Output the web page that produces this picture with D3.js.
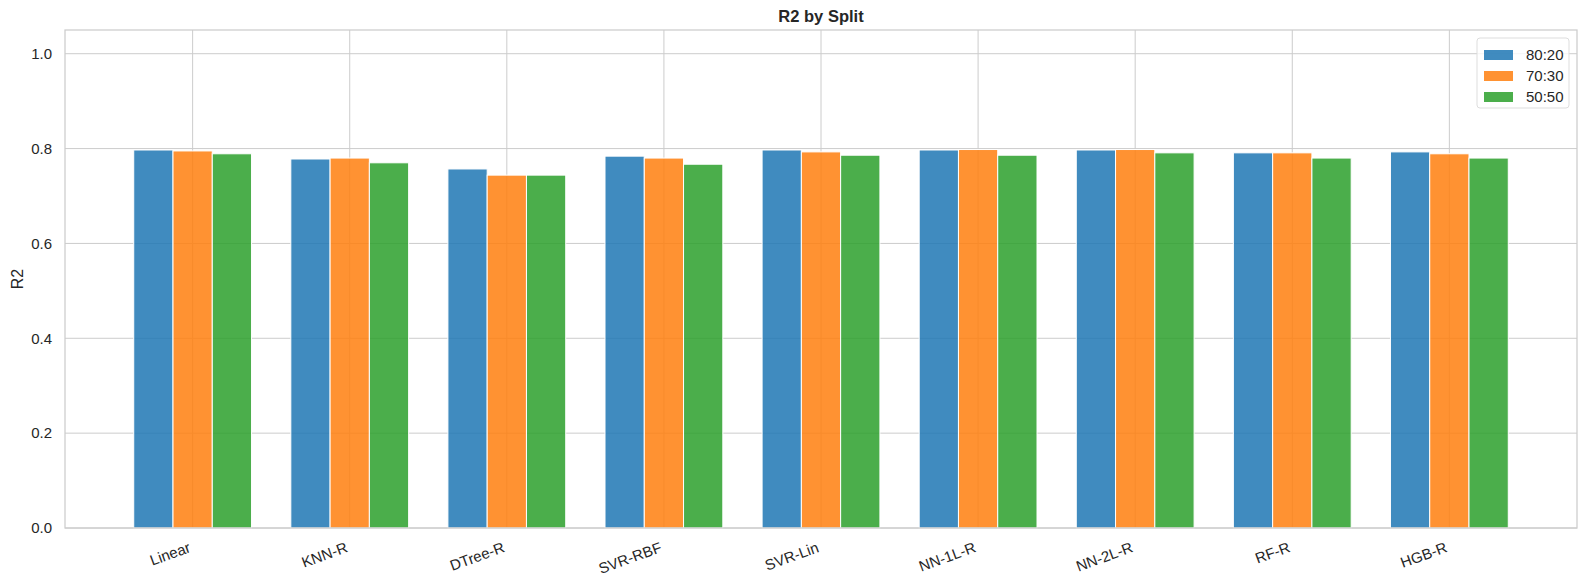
<!DOCTYPE html>
<html lang="en">
<head>
    <meta charset="UTF-8">
    <title>R2 by Split</title>
    <script src="https://d3js.org/d3.v7.min.js"></script>
    <style>
        body { margin: 0; background: #fff; }
        text { font-family: Arial, "Liberation Sans", sans-serif; fill: #262626; }
    </style>
</head>
<body>
    <div id="chart"></div>

    <script>
        // data
        const models = ['Linear', 'KNN-R', 'DTree-R', 'SVR-RBF', 'SVR-Lin', 'NN-1L-R', 'NN-2L-R', 'RF-R', 'HGB-R'];
        const splits = ['80:20', '70:30', '50:50'];
        const r2_8020 = [0.797, 0.778, 0.757, 0.784, 0.797, 0.797, 0.797, 0.791, 0.793];
        const r2_7030 = [0.795, 0.780, 0.744, 0.780, 0.793, 0.798, 0.798, 0.791, 0.789];
        const r2_5050 = [0.789, 0.770, 0.744, 0.767, 0.786, 0.786, 0.791, 0.780, 0.780];
        const yTicks = [0.0, 0.2, 0.4, 0.6, 0.8, 1.0];

        const series = [r2_8020, r2_7030, r2_5050];
        const colors = ['#1f77b4', '#ff7f0e', '#2ca02c'];

        const W = 1587, H = 587;
        const margin = {top: 30, right: 10, bottom: 59, left: 65};
        const width = W - margin.left - margin.right,
            height = H - margin.top - margin.bottom;

        const svg = d3.select('#chart')
            .append('svg')
                .attr('width', W)
                .attr('height', H);
        const g = svg.append('g')
            .attr('transform', `translate(${margin.left}, ${margin.top})`);

        // matplotlib style: bars at i-0.25, i, i+0.25 with width 0.25 + 5% margins
        const barW = 0.25;
        const lo = -0.375, hi = models.length - 1 + 0.375;
        const pad = (hi - lo) * 0.05;
        const x = d3.scaleLinear().domain([lo - pad, hi + pad]).range([0, width]);
        const y = d3.scaleLinear().domain([0, 1.05]).range([height, 0]);

        // grid
        g.append('g')
            .selectAll('line')
            .data(yTicks)
            .join('line')
                .attr('x1', 0).attr('x2', width)
                .attr('y1', d => y(d)).attr('y2', d => y(d))
                .attr('stroke', '#cccccc').attr('stroke-width', 1);
        g.append('g')
            .selectAll('line')
            .data(models.map((m, i) => i))
            .join('line')
                .attr('x1', d => x(d)).attr('x2', d => x(d))
                .attr('y1', 0).attr('y2', height)
                .attr('stroke', '#cccccc').attr('stroke-width', 1);

        // bars
        series.forEach((vals, s) => {
            g.append('g')
                .selectAll('rect')
                .data(vals)
                .join('rect')
                    .attr('x', (d, i) => x(i + (s - 1) * barW - barW / 2))
                    .attr('width', x(barW) - x(0))
                    .attr('y', d => y(d))
                    .attr('height', d => y(0) - y(d))
                    .attr('fill', colors[s])
                    .attr('fill-opacity', 0.85)
                    .attr('stroke', '#ffffff')
                    .attr('stroke-width', 1);
        });

        // spines
        g.append('rect')
            .attr('width', width).attr('height', height)
            .attr('fill', 'none')
            .attr('stroke', '#cccccc').attr('stroke-width', 1.25);

        // y axis labels
        const yAxis = g.append('g')
            .call(d3.axisLeft(y).tickValues(yTicks).tickFormat(d3.format('.1f')).tickSize(0).tickPadding(13));
        yAxis.select('.domain').remove();
        yAxis.selectAll('text')
            .style('font-size', '15px')
            .attr('fill', '#262626');

        // x labels, rotated like rotation=20, ha='right'
        g.append('g')
            .selectAll('text')
            .data(models)
            .join('text')
                .attr('transform', (d, i) => `translate(${x(i) - 5}, ${height + 13}) rotate(-20)`)
                .attr('text-anchor', 'end')
                .attr('dy', '0.75em')
                .style('font-size', '15px')
                .text(d => d);

        // axis title and chart title
        svg.append('text')
            .attr('transform', `translate(23, ${margin.top + height / 2}) rotate(-90)`)
            .attr('text-anchor', 'middle')
            .style('font-size', '16px')
            .text('R2');
        svg.append('text')
            .attr('x', margin.left + width / 2)
            .attr('y', 22)
            .attr('text-anchor', 'middle')
            .style('font-size', '16.5px')
            .style('font-weight', 'bold')
            .text('R2 by Split');

        // legend
        const legend = g.append('g')
            .attr('transform', `translate(${width - 100}, 8)`);
        legend.append('rect')
            .attr('width', 92).attr('height', 70)
            .attr('rx', 3)
            .attr('fill', '#ffffff').attr('fill-opacity', 0.8)
            .attr('stroke', '#dddddd');
        splits.forEach((name, s) => {
            const row = legend.append('g')
                .attr('transform', `translate(7, ${12 + s * 21})`);
            row.append('rect')
                .attr('width', 29).attr('height', 10)
                .attr('fill', colors[s]).attr('fill-opacity', 0.85);
            row.append('text')
                .attr('x', 42).attr('y', 5)
                .attr('dy', '0.35em')
                .style('font-size', '15px')
                .text(name);
        });
    </script>
</body>
</html>
